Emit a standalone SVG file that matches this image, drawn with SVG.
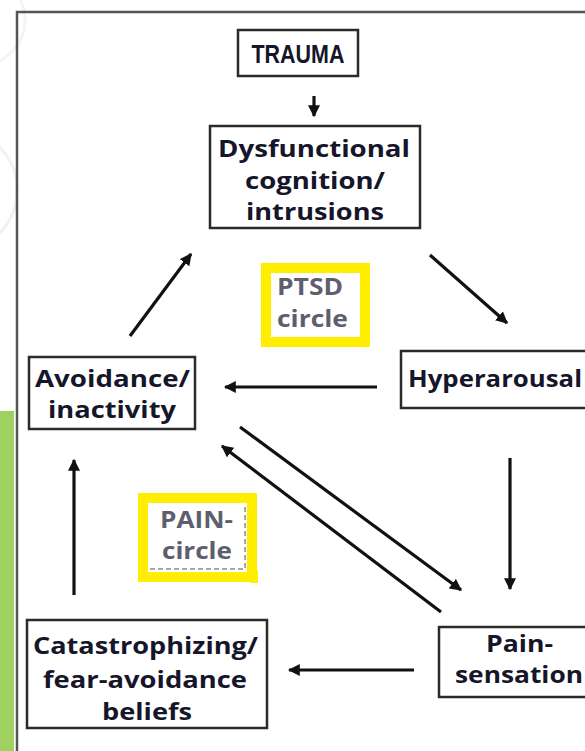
<svg xmlns="http://www.w3.org/2000/svg" width="585" height="751" viewBox="0 0 585 751">
<defs>
<style>
.box{fill:#fff;stroke:#2b2b2b;stroke-width:2.5}
.t{font-family:"Open Sans","DejaVu Sans",sans-serif;font-weight:700;font-size:24px;fill:#16162a;text-anchor:start}
.s{font-size:23px}
.tr{font-family:"Liberation Sans",Arial,sans-serif;font-weight:700;font-size:25px;fill:#16162a}
.g{font-family:"Open Sans","DejaVu Sans",sans-serif;font-weight:700;font-size:23px;fill:#5e5e6e}
.yl{fill:none;stroke:#ffee00;stroke-width:10}
.c{stroke:#111;stroke-width:3.2;fill:none;marker-end:url(#ah)}
</style>
<marker id="ah" viewBox="0 0 10 10" refX="9" refY="5" markerWidth="12" markerHeight="12" markerUnits="userSpaceOnUse" orient="auto">
<path d="M0,0 L10,5 L0,10 z" fill="#111"/>
</marker>
</defs>
<rect width="585" height="751" fill="#fff"/>
<g id="background">
<circle cx="-45" cy="190" r="62" fill="none" stroke="#f1f1f1" stroke-width="3"/>
<circle cx="-20" cy="20" r="45" fill="none" stroke="#f4f4f4" stroke-width="3"/>
<rect x="0" y="411" width="14" height="340" fill="#9fd160"/>
<path d="M17,751 V12 H585" fill="none" stroke="#555" stroke-width="2.5"/>
</g>
<g id="connectors">
<line class="c" x1="314" y1="96" x2="314" y2="116"/>
<line class="c" x1="130" y1="336" x2="191" y2="254"/>
<line class="c" x1="430" y1="255" x2="507" y2="323"/>
<line class="c" x1="377" y1="387" x2="225" y2="387"/>
<line class="c" x1="240" y1="427" x2="461" y2="590"/>
<line class="c" x1="441" y1="612" x2="222" y2="446"/>
<line class="c" x1="510" y1="458" x2="510" y2="589"/>
<line class="c" x1="414" y1="670" x2="289" y2="670"/>
<line class="c" x1="74" y1="595" x2="74" y2="460"/>
</g>
<g id="trauma">
<rect class="box" x="238" y="30" width="120" height="46"/>
<text class="tr" x="298" y="63" text-anchor="middle" textLength="93" lengthAdjust="spacingAndGlyphs">TRAUMA</text>
</g>
<g id="dysfunctional">
<rect class="box" x="210" y="126" width="210" height="102"/>
<text class="t" x="218" y="157" textLength="192" lengthAdjust="spacingAndGlyphs">Dysfunctional</text>
<text class="t" x="245" y="189" textLength="140" lengthAdjust="spacingAndGlyphs">cognition/</text>
<text class="t" x="246" y="220" textLength="138" lengthAdjust="spacingAndGlyphs">intrusions</text>
</g>
<g id="ptsd-circle">
<rect class="yl" x="266" y="268" width="99" height="74"/>
<text class="g" x="277" y="295" textLength="66" lengthAdjust="spacingAndGlyphs">PTSD</text>
<text class="g" x="277" y="327" textLength="71" lengthAdjust="spacingAndGlyphs">circle</text>
</g>
<g id="hyperarousal">
<rect class="box" x="401" y="351" width="200" height="57"/>
<text class="t" x="408" y="387" textLength="174" lengthAdjust="spacingAndGlyphs">Hyperarousal</text>
</g>
<g id="avoidance">
<rect class="box" x="29" y="357" width="166" height="72"/>
<text class="t s" x="35" y="387" textLength="155" lengthAdjust="spacingAndGlyphs">Avoidance/</text>
<text class="t s" x="48" y="418" textLength="128" lengthAdjust="spacingAndGlyphs">inactivity</text>
</g>
<g id="pain-circle">
<rect class="yl" x="143" y="498" width="109" height="79"/>
<rect x="250" y="570" width="8" height="13" fill="#ffee00"/>
<path d="M150,569 H245 V505" fill="none" stroke="#8a8a8a" stroke-width="1.5" stroke-dasharray="5,3"/>
<text class="g" x="160" y="528" textLength="73" lengthAdjust="spacingAndGlyphs">PAIN-</text>
<text class="g" x="162" y="559" textLength="70" lengthAdjust="spacingAndGlyphs">circle</text>
</g>
<g id="catastrophizing">
<rect class="box" x="27" y="620" width="240" height="108"/>
<text class="t" x="33" y="654" textLength="225" lengthAdjust="spacingAndGlyphs">Catastrophizing/</text>
<text class="t" x="43" y="688" textLength="204" lengthAdjust="spacingAndGlyphs">fear-avoidance</text>
<text class="t" x="102" y="720" textLength="90" lengthAdjust="spacingAndGlyphs">beliefs</text>
</g>
<g id="pain-sensation">
<rect class="box" x="439" y="627" width="160" height="70"/>
<text class="t" x="486" y="652" textLength="67" lengthAdjust="spacingAndGlyphs">Pain-</text>
<text class="t" x="455" y="683" textLength="128" lengthAdjust="spacingAndGlyphs">sensation</text>
</g>
</svg>
